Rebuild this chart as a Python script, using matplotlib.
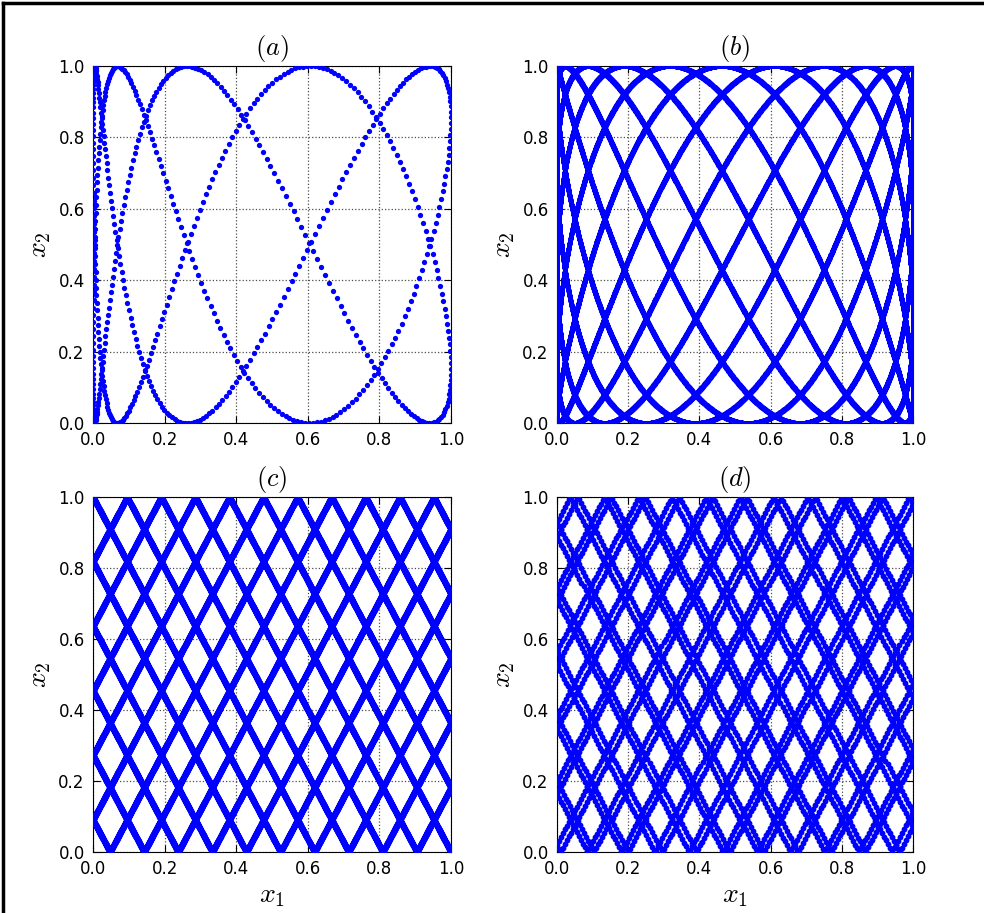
"""
Orbit portraits on the unit square: four panels (a)-(d) of x2 vs x1.
Each orbit is a closed torus winding; turn counts and phases were read
off the number of peaks / crossing rows in the original picture.
"""
import numpy as np
import matplotlib
matplotlib.use("Agg")
import matplotlib.pyplot as plt
from matplotlib.lines import Line2D

plt.rcParams["mathtext.fontset"] = "cm"

# turns of (theta1, theta2) per orbit, phases, samples
TURNS_A = [2, 5]
PHASE_A = [0.05, 0.0]
WARP_A = 0.37            # x1 of panel (a) is squeezed toward 0
TURNS_BCD = [11, 21]
PHASE_BC = [1 / 42, 0.0]
PHASE_D = [2 / 42 + 0.005, 0.0]
N_SAMPLES = [701, 40001, 40001, 3907]

TICKS = [0.0, 0.2, 0.4, 0.6, 0.8, 1.0]
TICK_LABELS = ["0.0", "0.2", "0.4", "0.6", "0.8", "1.0"]
TITLES = ["$(a)$", "$(b)$", "$(c)$", "$(d)$"]


def tent(theta):
    theta = np.mod(theta, 1.0)
    return 1.0 - np.abs(1.0 - 2.0 * theta)


def orbit(turns, phase, n):
    t = np.arange(n) / n
    return turns[0] * t + phase[0], turns[1] * t + phase[1]


# panel (a): sin^2 coordinates, x1 warped
th1, th2 = orbit(TURNS_A, PHASE_A, N_SAMPLES[0])
s = tent(th1)
xa = np.sin(np.pi / 2 * s * (WARP_A + (1 - WARP_A) * s)) ** 2
ya = np.sin(np.pi * th2) ** 2
# panel (b): sin^2 coordinates
th1, th2 = orbit(TURNS_BCD, PHASE_BC, N_SAMPLES[1])
xb = np.sin(np.pi * th1) ** 2
yb = np.sin(np.pi * th2) ** 2
# panel (c): tent coordinates
th1, th2 = orbit(TURNS_BCD, PHASE_BC, N_SAMPLES[2])
xc, yc = tent(th1), tent(th2)
# panel (d): tent coordinates, shifted phase, coarse sampling
th1, th2 = orbit(TURNS_BCD, PHASE_D, N_SAMPLES[3])
xd, yd = tent(th1), tent(th2)

fig = plt.figure(figsize=(9.84, 9.13), dpi=100)
W, H = 984.0, 913.0
boxes = [(93, 66, 358, 357), (557, 66, 356, 357),
         (93, 497, 358, 355), (557, 497, 356, 355)]
data = [(xa, ya, 3.8), (xb, yb, 3.6), (xc, yc, 4.0), (xd, yd, 4.2)]

for i, ((l, t, w, h), (x, y, ms)) in enumerate(zip(boxes, data)):
    ax = fig.add_axes([l / W, 1 - (t + h) / H, w / W, h / H])
    ax.plot(x, y, "o", color="b", mec="b", mew=0, ms=ms, zorder=3)
    ax.set_xlim(0, 1)
    ax.set_ylim(0, 1)
    ax.set_xticks(TICKS)
    ax.set_yticks(TICKS)
    ax.set_xticklabels(TICK_LABELS)
    ax.set_yticklabels(TICK_LABELS)
    ax.tick_params(direction="in", top=True, right=True, length=5,
                   labelsize=12, pad=6)
    ax.grid(True, linestyle=":", color="0.3", linewidth=0.9)
    ax.set_axisbelow(True)
    ax.set_title(TITLES[i], fontsize=19, pad=8)
    ax.set_ylabel("$x_2$", fontsize=20, labelpad=4)
    if i >= 2:
        ax.set_xlabel("$x_1$", fontsize=20, labelpad=2)

# frame around the figure (top and left edges are visible in the original)
fig.add_artist(Line2D([3 / W, 3 / W], [0, 1 - 3 / H], color="k", lw=2.5))
fig.add_artist(Line2D([3 / W, 1], [1 - 3 / H, 1 - 3 / H], color="k", lw=2.5))

fig.savefig("out.png", dpi=100)
